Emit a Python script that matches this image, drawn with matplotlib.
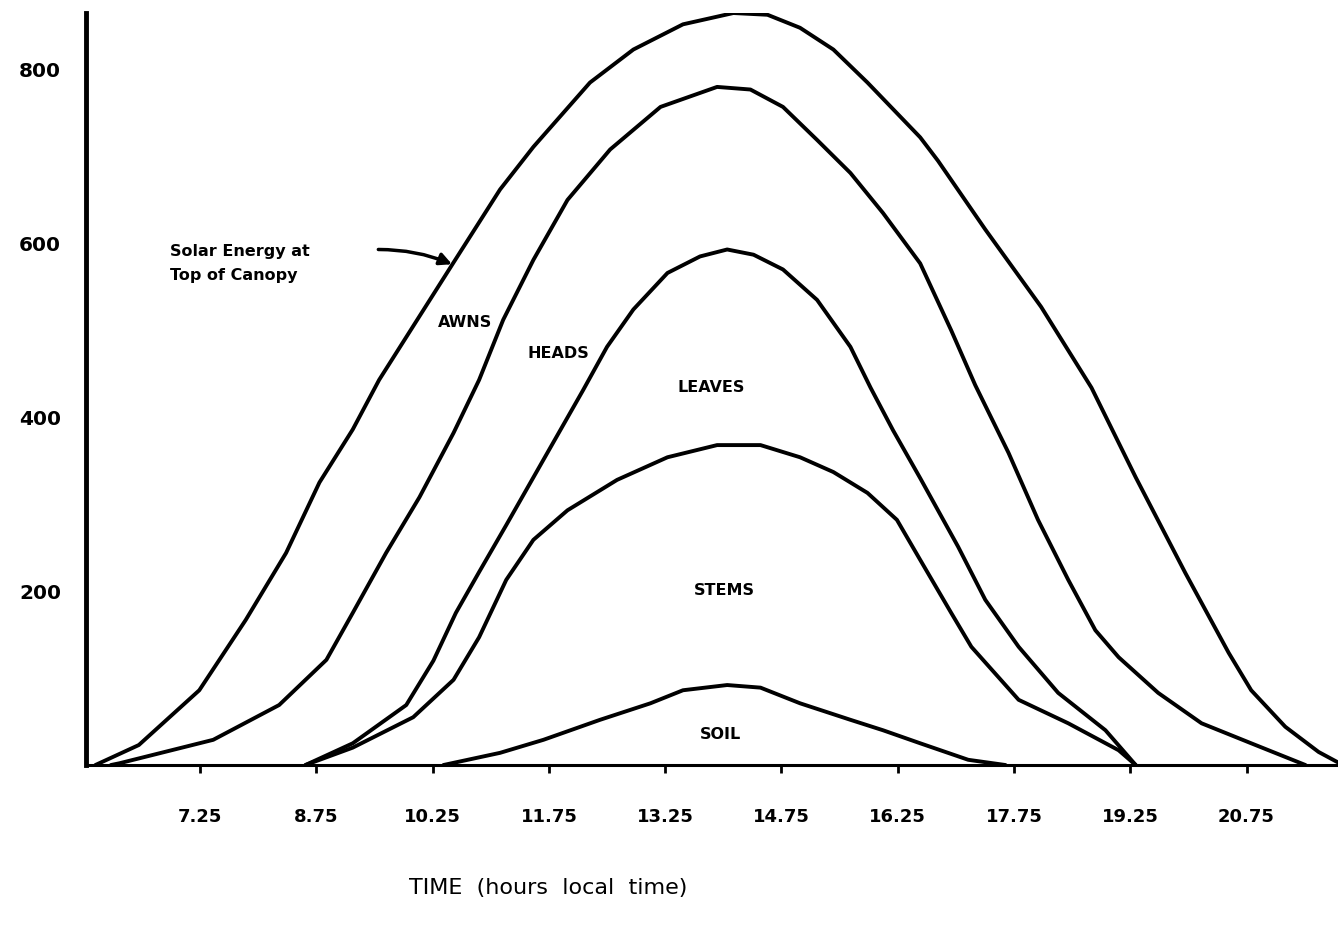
import matplotlib
matplotlib.use("Agg")
import matplotlib.pyplot as plt

# Cumulative solar energy intercepted through the wheat canopy over one day
solar_t = [5.90, 6.46, 7.24, 7.84, 8.36, 8.79, 9.22, 9.56, 10.52, 11.12, 11.55, 12.28, 12.84,
           13.48, 14.13, 14.57, 14.99, 15.42, 15.86, 16.54, 16.77, 17.38, 18.10, 18.75, 19.32,
           19.96, 20.52, 20.81, 21.25, 21.68, 21.93]
solar_v = [0, 23, 86, 167, 244, 325, 386, 443, 578, 662, 711, 785, 823,
           852, 865, 863, 848, 823, 785, 722, 695, 616, 527, 434, 331,
           221, 129, 86, 44, 15, 3]

awns_t = [6.10, 6.21, 7.42, 8.27, 8.88, 9.22, 9.65, 10.08, 10.52, 10.85, 11.16, 11.55, 11.99,
          12.54, 13.19, 13.92, 14.35, 14.77, 15.21, 15.64, 16.06, 16.54, 16.94, 17.25, 17.68,
          18.06, 18.45, 18.80, 19.10, 19.61, 20.17, 20.81, 21.51]
awns_v = [0, 2, 29, 69, 121, 175, 244, 308, 382, 443, 512, 581, 650,
          708, 757, 780, 777, 757, 719, 681, 635, 577, 500, 437, 359,
          282, 213, 155, 124, 83, 48, 25, 0]

heads_t = [8.61, 9.22, 9.91, 10.26, 10.55, 10.85, 11.20, 11.73, 12.19, 12.50, 12.84, 13.28,
           13.70, 14.05, 14.39, 14.77, 15.21, 15.64, 15.90, 16.19, 16.54, 17.03, 17.38, 17.81,
           18.32, 18.93, 19.32]
heads_v = [0, 25, 69, 120, 175, 222, 276, 359, 431, 481, 524, 566,
           585, 593, 587, 570, 535, 481, 434, 385, 330, 251, 190, 136,
           83, 40, 0]

stems_t = [8.61, 9.22, 10.00, 10.52, 10.85, 11.20, 11.55, 11.99, 12.63, 13.28, 13.92, 14.48,
           14.99, 15.42, 15.86, 16.24, 16.54, 16.94, 17.20, 17.81, 18.45, 19.10, 19.32]
stems_v = [0, 20, 55, 98, 147, 213, 259, 293, 328, 354, 368, 368,
           354, 337, 313, 282, 236, 175, 136, 75, 48, 17, 0]

soil_t = [10.39, 11.12, 11.68, 12.41, 13.06, 13.48, 14.05, 14.48, 14.99, 15.64, 16.06, 16.54,
          17.16, 17.64]
soil_v = [0, 14, 29, 52, 71, 86, 92, 89, 71, 52, 40, 25,
          6, 0]

x_ticks = [7.25, 8.75, 10.25, 11.75, 13.25, 14.75, 16.25, 17.75, 19.25, 20.75]
y_ticks = [200, 400, 600, 800]

region_labels = ["AWNS", "HEADS", "LEAVES", "STEMS", "SOIL"]
region_t = [10.67, 11.87, 13.84, 14.01, 13.96]
region_v = [509, 473, 434, 201, 35]

plt.rcParams['font.family'] = ['DejaVu Sans']

fig = plt.figure(figsize=(13.38, 9.30), dpi=100)
ax = fig.add_axes([0.0643, 0.1774, 0.9357, 0.8086])

for t, v in [(solar_t, solar_v), (awns_t, awns_v), (heads_t, heads_v),
             (stems_t, stems_v), (soil_t, soil_v)]:
    ax.plot(t, v, color='black', lw=2.8, solid_joinstyle='round', solid_capstyle='round')

ax.set_xlim(5.779, 21.93)
ax.set_ylim(0, 865)

for side in ['top', 'right']:
    ax.spines[side].set_visible(False)
ax.spines['left'].set_linewidth(3.5)
ax.spines['bottom'].set_linewidth(2.2)

ax.set_xticks(x_ticks)
ax.set_xticklabels([f"{t:.2f}" for t in x_ticks], fontsize=13, fontweight='bold')
ax.set_yticks(y_ticks)
ax.set_yticklabels([str(v) for v in y_ticks], fontsize=14.5, fontweight='bold')
ax.tick_params(axis='x', direction='out', length=6, width=2, pad=25)
ax.tick_params(axis='y', length=0, pad=18)

for lab, t, v in zip(region_labels, region_t, region_v):
    ax.text(t, v, lab, ha='center', va='center', fontsize=11.5, fontweight='bold')

ax.text(6.86, 577, "Solar Energy at\nTop of Canopy", ha='left', va='center',
        fontsize=11.5, fontweight='bold', linespacing=1.7)
ax.annotate("", xy=(10.50, 576), xytext=(9.55, 593),
            arrowprops=dict(arrowstyle='-|>', color='black', lw=2.5,
                            mutation_scale=18, shrinkA=0, shrinkB=0,
                            connectionstyle='arc3,rad=-0.1'))

fig.text(0.4096, 0.0452, "TIME  (hours  local  time)", ha='center', va='center', fontsize=16)

fig.savefig("out.png", dpi=100, facecolor='white')
